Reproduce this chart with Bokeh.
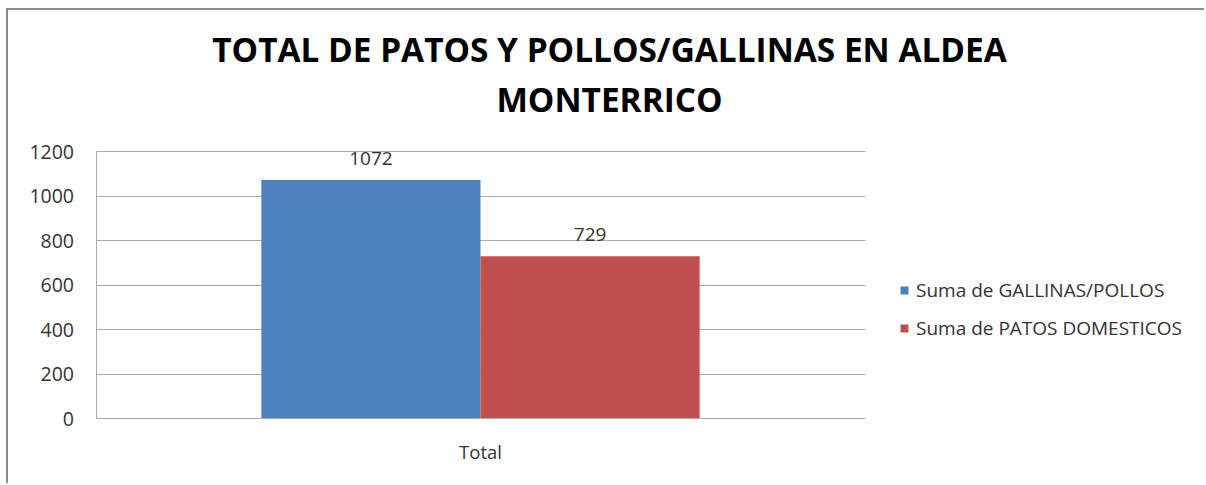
from bokeh.plotting import figure
from bokeh.models import (ColumnDataSource, Range1d, Legend, LegendItem,
                          LabelSet, Label, FixedTicker)
from bokeh.core.properties import value
from bokeh.embed import file_html
from bokeh.resources import INLINE

# ---- data ----
categories = ["Total"]
gallinas = [1072]
patos = [729]
series_names = ["Suma de GALLINAS/POLLOS", "Suma de PATOS DOMESTICOS"]
y_ticks = [0, 200, 400, 600, 800, 1000, 1200]
title_lines = ["TOTAL DE PATOS Y POLLOS/GALLINAS EN ALDEA", "MONTERRICO"]

BLUE = "#4F81BD"
RED = "#C0504D"
GRID = "#ababab"
TXT = "#333333"
FONT = "Open Sans"

# ---- layout geometry (pixels) ----
W, H = 1198, 475                 # canvas size
PLOT_L, PLOT_R = 87.5, 856.5     # value-area left/right, from canvas left
PLOT_T, PLOT_B = 141, 408        # value-area top/bottom, from canvas top
px_x = (PLOT_R - PLOT_L)         # px per category slot
px_y = (PLOT_B - PLOT_T) / y_ticks[-1]
x_start = -PLOT_L / px_x
x_end = x_start + W / px_x
y_start = -(H - PLOT_B) / px_y
y_end = y_start + H / px_y

pos = [i + 0.5 for i in range(len(categories))]
bw = 0.285
src = ColumnDataSource(dict(x=pos, gallinas=gallinas, patos=patos,
                            gl=[str(v) for v in gallinas], pl=[str(v) for v in patos]))

p = figure(width=W, height=H, x_range=Range1d(x_start, x_end),
           y_range=Range1d(y_start, y_end), output_backend="svg",
           toolbar_location=None, min_border=0)
p.styles = {"margin-left": "6px", "margin-top": "8px",
            "border-top": "2px solid #8c8c8c", "border-left": "2px solid #8c8c8c"}
p.outline_line_color = None
p.background_fill_color = "white"
p.border_fill_color = "white"

r1 = p.vbar(x=[v - bw / 2 for v in pos], top=gallinas, width=bw,
            fill_color=BLUE, line_color=None)
r2 = p.vbar(x=[v + bw / 2 for v in pos], top=patos, width=bw,
            fill_color=RED, line_color=None)

for col, lab, off in (("gallinas", "gl", -bw / 2), ("patos", "pl", bw / 2)):
    src.data["x_" + col] = [v + off for v in pos]
    ls = LabelSet(x="x_" + col, y=col, text=lab, source=src,
                  y_offset=15, text_align="center", text_baseline="alphabetic",
                  text_font=value(FONT), text_font_size="19px", text_color=TXT)
    p.add_layout(ls)

# axes (drawn at the value-area edges)
p.yaxis.fixed_location = 0
p.yaxis.ticker = FixedTicker(ticks=y_ticks)
p.yaxis.bounds = (y_ticks[0], y_ticks[-1])
p.yaxis.axis_line_color = GRID
p.yaxis.major_tick_line_color = None
p.yaxis.minor_tick_line_color = None
p.yaxis.major_label_standoff = 16
p.yaxis.major_label_text_font = FONT
p.yaxis.major_label_text_font_size = "19.5px"
p.yaxis.major_label_text_color = TXT

p.xaxis.fixed_location = 0
p.xaxis.ticker = FixedTicker(ticks=pos)
p.xaxis.major_label_overrides = {v: c for v, c in zip(pos, categories)}
p.xaxis.bounds = (0, len(categories))
p.xaxis.axis_line_color = GRID
p.xaxis.major_tick_line_color = None
p.xaxis.minor_tick_line_color = None
p.xaxis.major_label_standoff = 14
p.xaxis.major_label_text_font = FONT
p.xaxis.major_label_text_font_size = "18.5px"
p.xaxis.major_label_text_color = TXT

p.xgrid.grid_line_color = None
p.ygrid.grid_line_color = GRID
p.ygrid.ticker = FixedTicker(ticks=y_ticks)
p.ygrid.cross_bounds = (0, len(categories))

# title: two centred lines
for txt, yy in ((title_lines[0], H - 38), (title_lines[1], H - 88)):
    p.add_layout(Label(x=601, y=yy, x_units="screen", y_units="screen", text=txt,
                       text_align="center", text_baseline="alphabetic",
                       text_font=FONT, text_font_style="bold",
                       text_font_size="33.4px", text_color="black"))

legend = Legend(items=[LegendItem(label=series_names[0], renderers=[r1]),
                       LegendItem(label=series_names[1], renderers=[r2])],
                location=(891, H - 331), orientation="vertical",
                padding=0, margin=0, spacing=12, glyph_width=10, glyph_height=10,
                label_height=20, label_standoff=7, border_line_color=None,
                background_fill_alpha=0,
                label_text_font=FONT, label_text_font_size="19px",
                label_text_color=TXT)
p.add_layout(legend)

open("out.html", "w").write(file_html(p, INLINE))
